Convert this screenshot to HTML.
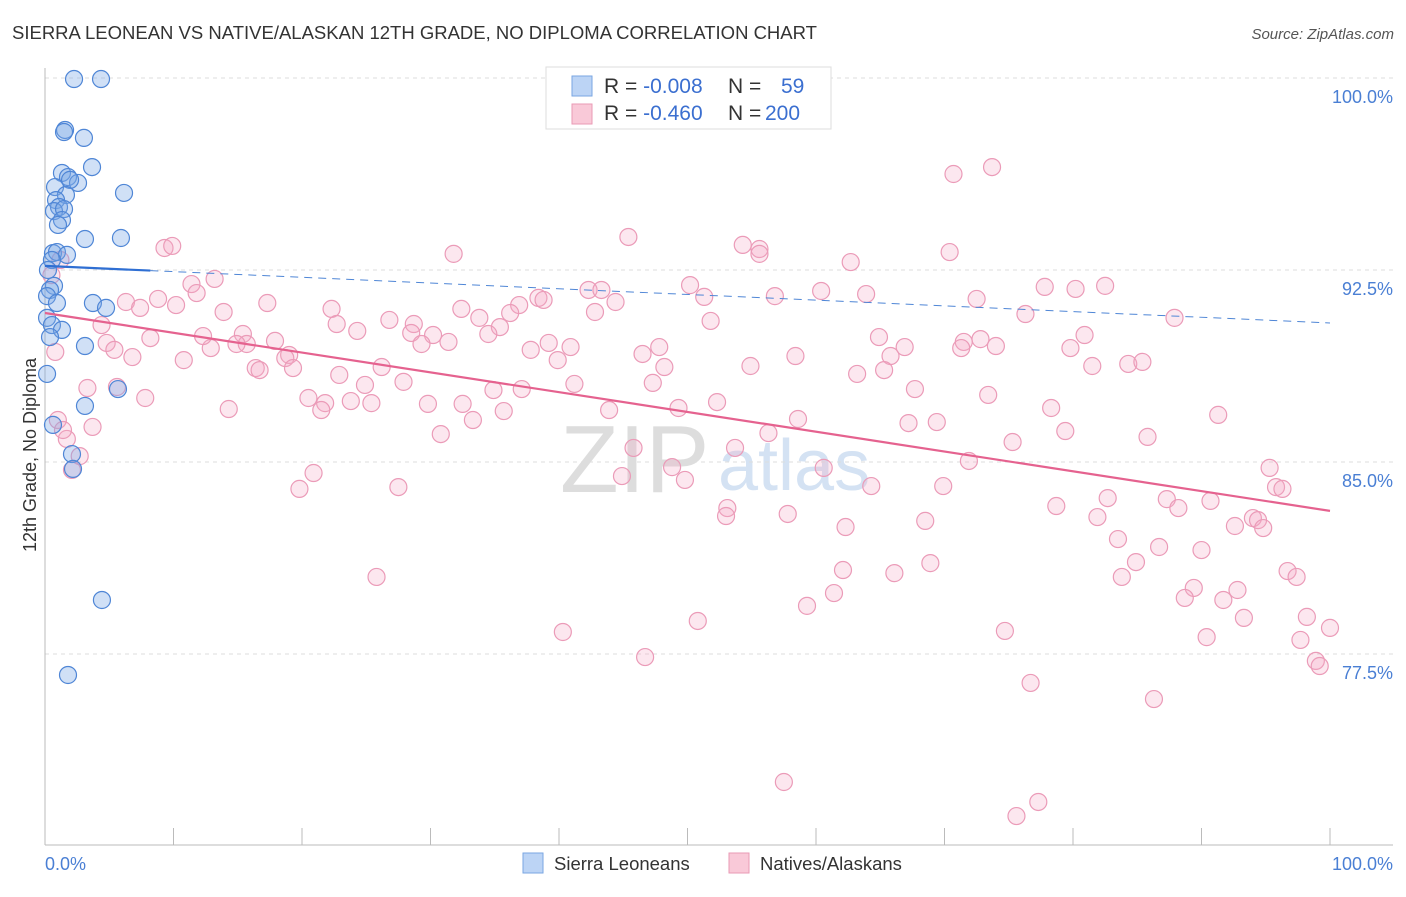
<!DOCTYPE html>
<html><head><meta charset="utf-8">
<style>
body{margin:0;background:#fff;font-family:"Liberation Sans",sans-serif;}
svg text{font-family:"Liberation Sans",sans-serif;}
</style></head>
<body>
<svg id="chart" width="1406" height="892">
<text x="12" y="39" font-size="18.5" fill="#333">SIERRA LEONEAN VS NATIVE/ALASKAN 12TH GRADE, NO DIPLOMA CORRELATION CHART</text>
<text x="1394" y="39" font-size="15" fill="#555" text-anchor="end" font-style="italic">Source: ZipAtlas.com</text>
<text x="560" y="492" font-size="96" fill="#ddd" font-family="Liberation Serif">ZIP</text>
<text x="718" y="490" font-size="72" fill="#d4e2f3">atlas</text>
<g id="grid"></g>
<g id="axes"></g>
<g id="pts"></g>
<g id="trend"></g>
<text transform="translate(36,455) rotate(-90)" font-size="18" fill="#333" text-anchor="middle">12th Grade, No Diploma</text>
<text x="45" y="870" font-size="18" fill="#4a7fd4">0.0%</text>
<text x="1393" y="870" font-size="18" fill="#4a7fd4" text-anchor="end">100.0%</text>
<g>
<rect x="523" y="853" width="20" height="20" fill="#bcd4f5" stroke="#7aa6e2"/>
<text x="554" y="870" font-size="18.5" fill="#333">Sierra Leoneans</text>
<rect x="729" y="853" width="20" height="20" fill="#f9c9d8" stroke="#e99ab5"/>
<text x="760" y="870" font-size="18.5" fill="#333">Natives/Alaskans</text>
</g>
<g>
<rect x="546" y="67" width="285" height="62" fill="#fff" stroke="#ddd"/>
<rect x="572" y="76" width="20" height="20" fill="#bcd4f5" stroke="#7aa6e2"/>
<rect x="572" y="104" width="20" height="20" fill="#f9c9d8" stroke="#e99ab5"/>
<text x="604" y="93" font-size="21" fill="#333">R = <tspan fill="#3b6fd0">-0.008</tspan><tspan x="728">N = </tspan><tspan x="781" fill="#3b6fd0">59</tspan></text>
<text x="604" y="120" font-size="21" fill="#333">R = <tspan fill="#3b6fd0">-0.460</tspan><tspan x="728">N = </tspan><tspan x="765" fill="#3b6fd0">200</tspan></text>
</g>
</svg>
<script>
const yTicks=[100,92.5,85,77.5];
const yTickLabels=["100.0%","92.5%","85.0%","77.5%"];
const xTicks=[0,10,20,30,40,50,60,70,80,90,100];
const blueX=[2.26,4.36,1.56,1.48,3.03,3.66,1.32,1.79,2.57,0.78,1.95,6.15,1.63,0.86,1.09,0.70,1.48,1.32,1.01,3.11,5.91,0.62,0.93,1.71,0.54,0.23,0.70,0.39,0.16,0.93,3.73,4.75,0.16,0.54,1.32,0.39,3.11,0.16,5.68,3.11,0.62,2.10,2.18,4.43,1.79];
const blueY=[99.96,99.96,97.97,97.89,97.66,96.52,96.29,96.13,95.90,95.74,96.02,95.51,95.43,95.23,94.96,94.80,94.88,94.45,94.26,93.71,93.75,93.16,93.20,93.09,92.89,92.50,91.88,91.72,91.48,91.21,91.21,91.02,90.63,90.35,90.16,89.88,89.53,88.44,87.85,87.19,86.45,85.31,84.73,79.61,76.68];
const pinkX=[60.1,73.7,70.7,45.4,54.3,55.6,55.6,70.4,31.8,9.3,9.9,62.7,13.2,50.2,11.4,11.8,8.8,6.3,10.2,17.3,38.4,38.8,42.3,43.3,44.4,51.3,56.8,60.4,63.9,72.5,77.8,80.2,82.5,87.9,76.3,32.4,22.3,33.8,36.9,36.2,42.8,13.9,4.4,7.4,22.7,24.3,26.8,28.7,28.5,30.2,29.3,31.4,35.4,34.5,51.8,64.9,80.9,71.5,72.8,15.4,17.9,15.7,12.9,12.3,14.9,4.8,5.4,8.2,6.8,10.8,19.0,18.7,16.4,16.7,19.3,26.2,22.9,24.9,27.9,37.8,39.2,40.9,39.9,46.5,47.8,48.2,54.9,58.4,65.8,66.9,71.3,74.0,79.8,81.5,84.3,85.4,63.2,65.3,41.2,47.3,67.7,73.4,37.1,34.9,3.3,5.6,7.8,20.5,21.8,23.8,25.4,29.8,32.5,35.7,43.9,49.3,52.3,14.3,21.5,33.3,78.3,91.3,3.7,1.7,2.7,30.8,45.8,53.7,56.3,58.6,67.2,69.4,75.3,79.4,85.8,71.9,20.9,19.8,27.5,44.9,48.8,49.8,60.6,64.3,69.9,95.3,95.8,96.3,82.7,87.3,90.7,53.1,53.0,57.8,68.5,62.3,78.7,81.9,88.2,92.6,94.0,94.4,94.8,83.5,86.7,90.0,84.9,62.1,66.1,68.9,25.8,83.8,96.7,97.4,61.4,89.4,88.7,91.7,92.8,59.3,93.3,98.2,50.8,40.3,74.7,90.4,97.7,100.0,46.7,98.9,99.2,76.7,86.3,57.5,77.3,75.6,1.2,0.5,0.8,1.0,2.1,1.4];
const pinkY=[98.75,96.52,96.25,93.79,93.48,93.32,93.13,93.20,93.13,93.36,93.44,92.81,92.15,91.91,91.95,91.60,91.37,91.25,91.13,91.21,91.41,91.33,91.72,91.72,91.25,91.45,91.48,91.68,91.56,91.37,91.84,91.76,91.88,90.63,90.78,90.98,90.98,90.63,91.13,90.82,90.86,90.86,90.35,91.02,90.39,90.12,90.55,90.39,90.04,89.96,89.61,89.69,90.27,90.00,90.51,89.88,89.96,89.69,89.80,90.00,89.73,89.61,89.45,89.92,89.61,89.65,89.38,89.84,89.10,88.98,89.18,89.06,88.67,88.59,88.67,88.71,88.40,88.01,88.13,89.38,89.65,89.49,88.98,89.22,89.49,88.71,88.75,89.14,89.14,89.49,89.45,89.53,89.45,88.75,88.83,88.91,88.44,88.59,88.05,88.09,87.85,87.62,87.85,87.81,87.89,87.93,87.50,87.50,87.30,87.38,87.30,87.27,87.27,86.99,87.03,87.11,87.34,87.07,87.03,86.64,87.11,86.84,86.37,85.90,85.23,86.09,85.55,85.55,86.13,86.68,86.52,86.56,85.78,86.21,85.98,85.04,84.57,83.95,84.02,84.45,84.80,84.30,84.77,84.06,84.06,84.77,84.02,83.95,83.59,83.55,83.48,83.20,82.89,82.97,82.70,82.46,83.28,82.85,83.20,82.50,82.81,82.73,82.42,81.99,81.68,81.56,81.09,80.78,80.66,81.05,80.51,80.51,80.74,80.51,79.88,80.08,79.69,79.61,80.00,79.38,78.91,78.95,78.79,78.36,78.40,78.16,78.05,78.52,77.38,77.23,77.03,76.37,75.74,72.50,71.72,71.17,92.89,92.30,89.30,86.64,84.69,86.25];
const blueTrend=[92.66,90.43];
const pinkTrend=[90.82,83.09];
const NS="http://www.w3.org/2000/svg";
function sx(v){return 45+v*12.85;}
function sy(v){return 78+(100-v)*25.6;}
function mk(tag,attrs,parent){const e=document.createElementNS(NS,tag);for(const k in attrs)e.setAttribute(k,attrs[k]);parent.appendChild(e);return e;}
const grid=document.getElementById('grid'),axes=document.getElementById('axes'),pts=document.getElementById('pts'),tr=document.getElementById('trend');
yTicks.forEach((t,i)=>{
  const l=mk('line',{x1:45,x2:1393,y1:sy(t),y2:sy(t),stroke:'#ddd','stroke-dasharray':'4,4'},grid);
  
  
  const tx=mk('text',{x:1393,y:sy(t)+25,'font-size':18,fill:'#4a7fd4','text-anchor':'end'},grid);
  tx.textContent=yTickLabels[i];
  
  
});
const ax=mk('line',{x1:45,x2:45,y1:68,y2:845,stroke:'#bbb'},axes);


const bx=mk('line',{x1:45,x2:1393,y1:845,y2:845,stroke:'#bbb'},axes);


xTicks.forEach(t=>{
  const l=mk('line',{x1:sx(t),x2:sx(t),y1:828,y2:845,stroke:'#bbb'},axes);
  
  
});
pinkX.forEach((x,i)=>{
  const c=mk('circle',{cx:sx(x),cy:sy(pinkY[i]),r:8.5,fill:'rgba(244,170,196,0.28)',stroke:'#eb9bb8','stroke-width':1.2},pts);
  
  
});
blueX.forEach((x,i)=>{
  const c=mk('circle',{cx:sx(x),cy:sy(blueY[i]),r:8.5,fill:'rgba(120,165,230,0.35)',stroke:'#4f86d6','stroke-width':1.2},pts);
  
  
});
function ty(tr2,x){return tr2[0]+(tr2[1]-tr2[0])*x/100;}
const b1=mk('line',{x1:sx(0),y1:sy(ty(blueTrend,0)),x2:sx(8.2),y2:sy(ty(blueTrend,8.2)),stroke:'#2f6fd3','stroke-width':2.2},tr);


const b2=mk('line',{x1:sx(8.2),y1:sy(ty(blueTrend,8.2)),x2:sx(100),y2:sy(ty(blueTrend,100)),stroke:'#4f86d6','stroke-width':1,'stroke-dasharray':'8,6'},tr);


const p1=mk('line',{x1:sx(0),y1:sy(ty(pinkTrend,0)),x2:sx(100),y2:sy(ty(pinkTrend,100)),stroke:'#e5628f','stroke-width':2.2},tr);


</script>
</body></html>
